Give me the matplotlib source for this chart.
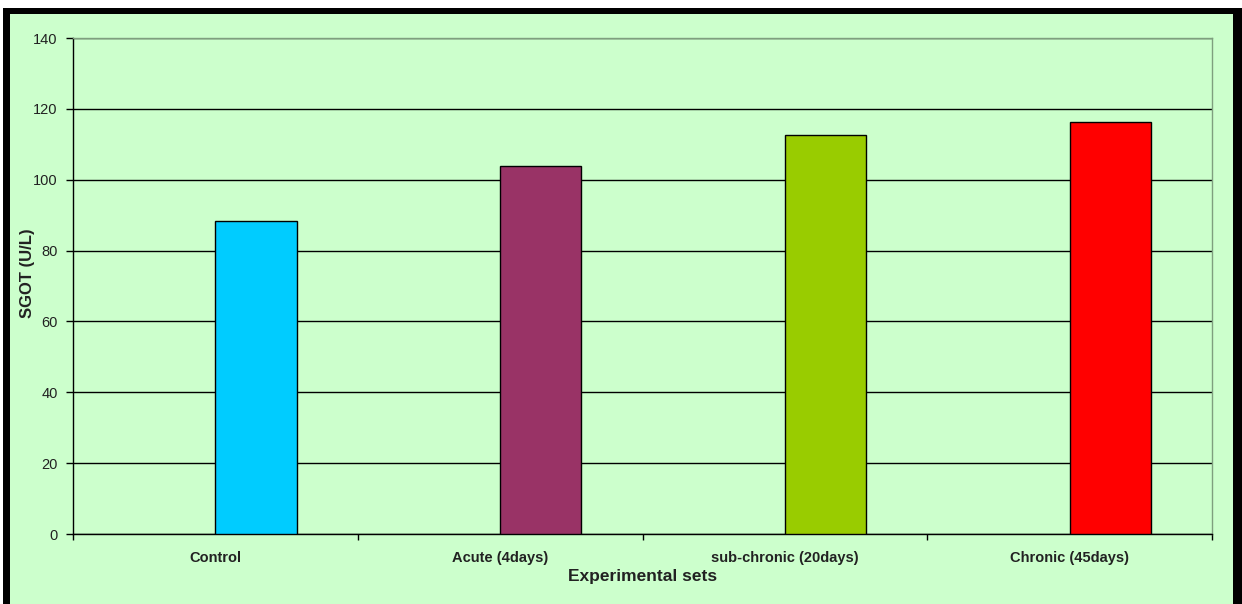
import numpy as np
import matplotlib.pyplot as plt
from matplotlib.patches import Rectangle

# data
categories = ['Control', 'Acute (4days)', 'sub-chronic (20days)', 'Chronic (45days)']
sgot = [88.4, 104.0, 112.6, 116.4]
bar_colors = ['#00CCFF', '#993366', '#99CC00', '#FF0000']
y_ticks = [0, 20, 40, 60, 80, 100, 120, 140]

plt.rcParams['font.family'] = ['Liberation Sans', 'DejaVu Sans']

W, H = 1242, 604
fig = plt.figure(figsize=(W / 100, H / 100), dpi=100)
fig.patch.set_facecolor('white')

# black frame + green chart area (Excel-like)
fig.patches.append(Rectangle((3 / W, 0), 1, 1 - 8 / H, transform=fig.transFigure,
                             facecolor='black', edgecolor='none', zorder=-2))
fig.patches.append(Rectangle((10 / W, 0), (1233 - 10) / W, 1 - 14 / H, transform=fig.transFigure,
                             facecolor='#CCFFCC', edgecolor='none', zorder=-1))

ax = fig.add_axes([73 / W, 1 - 534 / H, (1212 - 73) / W, (534 - 38) / H])
ax.set_facecolor('#CCFFCC')

x = np.arange(len(categories))
ax.bar(x, sgot, width=0.285, align='edge', color=bar_colors,
       edgecolor='black', linewidth=1.0, zorder=3)

ax.set_xlim(-0.5, len(categories) - 0.5)
ax.set_ylim(0, 140)
ax.set_yticks(y_ticks)
ax.yaxis.grid(True, color='black', linewidth=1.0, zorder=0)
ax.set_axisbelow(True)

# category labels at centres, tick marks at category boundaries
ax.set_xticks(x)
ax.set_xticklabels(categories, fontsize=10.5, fontweight='bold', color='#222222')
ax.set_xticks(np.arange(-0.5, len(categories)), minor=True)
ax.tick_params(axis='x', which='major', length=0, pad=12)
ax.tick_params(axis='x', which='minor', length=4, width=1, direction='out')
ax.tick_params(axis='y', length=5, width=1, labelsize=10.5, pad=6, labelcolor='#222222')

for s in ['left', 'bottom']:
    ax.spines[s].set_color('black')
    ax.spines[s].set_linewidth(1.0)
for s in ['top', 'right']:
    ax.spines[s].set_color('#7f9f7f')
    ax.spines[s].set_linewidth(1.0)

ax.set_xlabel('Experimental sets', fontsize=12.5, fontweight='bold', color='#222222', labelpad=3)
ax.set_ylabel('SGOT (U/L)', fontsize=12, fontweight='bold', color='#222222')
ax.yaxis.set_label_coords(-0.033, 0.525)

fig.savefig('out.png', dpi=100, facecolor=fig.get_facecolor())
